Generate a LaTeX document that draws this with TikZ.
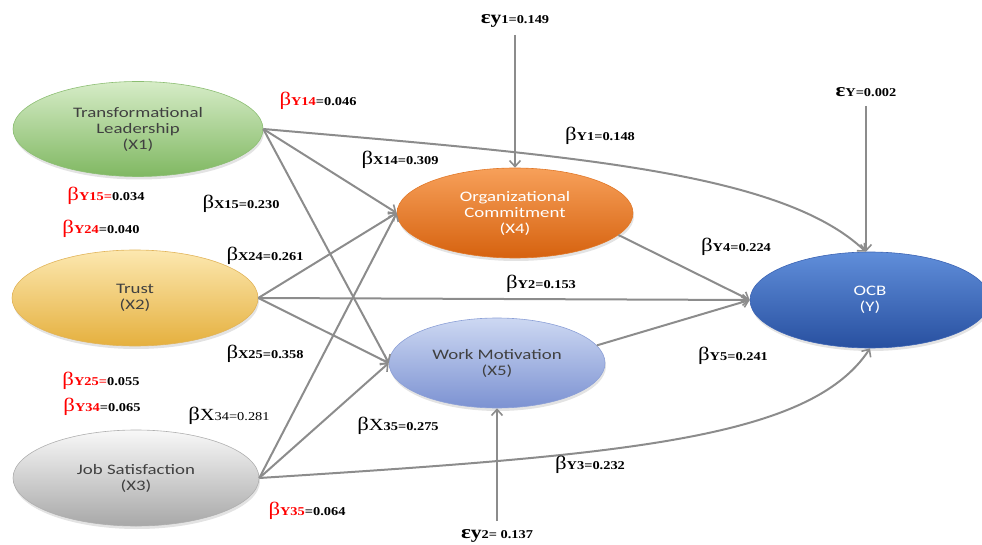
\documentclass[tikz,border=0pt]{standalone}
\usepackage{fontspec}
\setmainfont{Liberation Serif}
\newfontfamily\ellfont[FakeStretch=1.3]{Carlito}
\newfontfamily\labfont[FakeStretch=1.2]{Liberation Serif}
\usetikzlibrary{arrows.meta,shapes.geometric,shadows}
\definecolor{arrgray}{HTML}{8C8C8C}
\definecolor{txtgray}{HTML}{404040}
\definecolor{gA}{RGB}{214,236,199}\definecolor{gB}{RGB}{128,184,98}\definecolor{gD}{RGB}{140,190,115}
\definecolor{yA}{RGB}{252,232,176}\definecolor{yB}{RGB}{229,176,62}\definecolor{yD}{RGB}{225,180,90}
\definecolor{sA}{RGB}{248,248,248}\definecolor{sB}{RGB}{168,168,168}\definecolor{sD}{RGB}{175,175,175}
\definecolor{oA}{RGB}{247,160,90}\definecolor{oB}{RGB}{214,98,15}\definecolor{oD}{RGB}{225,120,40}
\definecolor{lA}{RGB}{205,216,242}\definecolor{lB}{RGB}{124,146,210}\definecolor{lD}{RGB}{140,160,215}
\definecolor{bA}{RGB}{96,142,218}\definecolor{bB}{RGB}{40,80,160}\definecolor{bD}{RGB}{60,100,180}
\newcommand{\bt}{{\fontsize{19}{19}\selectfont β}}
\newcommand{\sm}[1]{{\fontsize{12}{12}\selectfont\bfseries #1}}
\newcommand{\eps}{{\fontsize{19}{19}\selectfont\bfseries ɛ}}
\tikzset{
  ell/.style={ellipse, draw=#1D, top color=#1A, bottom color=#1B, line width=0.6pt,
    font=\ellfont\fontsize{14.5}{16}\selectfont, text=txtgray, align=center,
    drop shadow={opacity=0.22, shadow xshift=1pt, shadow yshift=-3pt}},
  arr/.style={draw=arrgray, line width=2pt, -{Straight Barb[length=6pt,width=11pt,line width=1.6pt]}},
  lab/.style={inner sep=1pt, font=\labfont, anchor=center}
}
\begin{document}
\begin{tikzpicture}[x=1pt,y=-1pt]
\useasboundingbox (0,0) rectangle (982,545);
% nodes
\node[ell=g, minimum width=250pt, minimum height=95pt] (x1) at (138,129) {Transformational\\Leadership\\(X1)};
\node[ell=y, minimum width=246pt, minimum height=96pt] (x2) at (135,298) {Trust\\(X2)};
\node[ell=s, minimum width=246pt, minimum height=96pt] (x3) at (136,478) {Job Satisfaction\\(X3)};
\node[ell=o, text=white, minimum width=236pt, minimum height=90pt] (x4) at (515,213) {Organizational\\Commitment\\(X4)};
\node[ell=l, minimum width=216pt, minimum height=90pt] (x5) at (497,363) {Work Motivation\\(X5)};
\node[ell=b, text=white, minimum width=240pt, minimum height=96pt] (y) at (870,300) {OCB\\(Y)};
% error terms
\node[lab] (e1) at (515,21) {\eps{\fontsize{18}{18}\selectfont\bfseries y}\sm{1=0.149}};
\node[lab] (e0) at (866,92) {\eps\sm{Y=0.002}};
\node[lab] (e2) at (497,536) {\eps{\fontsize{18}{18}\selectfont\bfseries y}\sm{2= 0.137}};
\coordinate (e1s) at (515,35);
\coordinate (e0s) at (866,106);
\coordinate (e2s) at (497,521);
\draw[arr] (e1s) -- (x4.north);
\draw[arr] (e0s) -- (y.north -| e0s);
\draw[arr] (e2s) -- (x5.south);
% paths
\draw[arr] (x1.east) -- (x4.west);
\draw[arr] (x1.east) -- (x5.west);
\draw[arr] (x1.east) .. controls (560,155) and (780,170) .. (y.95);
\draw[arr] (x2.east) -- (x4.west);
\draw[arr] (x2.east) -- (y.west);
\draw[arr] (x2.east) -- (x5.west);
\draw[arr] (x3.east) -- (x4.west);
\draw[arr] (x3.east) -- (x5.west);
\draw[arr] (x3.east) .. controls (620,455) and (810,440) .. (y.south);
\draw[arr] (x4.-12) -- (y.west);
\draw[arr] (x5.10) -- (y.west);
% labels
\node[lab] (l1) at (318,101) {\textcolor{red}{\bt\sm{Y14}}\sm{=0.046}};
\node[lab] (l2) at (600,136) {\bt\sm{Y1=0.148}};
\node[lab] (l3) at (400,160) {\bt\sm{X14=0.309}};
\node[lab] (l4) at (106,196) {\textcolor{red}{\bt\sm{Y15=}}\sm{0.034}};
\node[lab] (l5) at (241,204) {\bt\sm{X15=0.230}};
\node[lab] (l6) at (101,229) {\textcolor{red}{\bt\sm{Y24}}\sm{=0.040}};
\node[lab] (l7) at (265,256) {\bt\sm{X24=0.261}};
\node[lab] (l8) at (541,284) {\bt\sm{Y2=0.153}};
\node[lab] (l9) at (736,247) {\bt\sm{Y4=0.224}};
\node[lab] (l10) at (265,354) {\bt\sm{X25=0.358}};
\node[lab] (l11) at (733,356) {\bt\sm{Y5=0.241}};
\node[lab] (l12) at (101,381) {\textcolor{red}{\bt\sm{Y25=}}\sm{0.055}};
\node[lab] (l13) at (102,407) {\textcolor{red}{\bt\sm{Y34}}\sm{=0.065}};
\node[lab] (l14) at (229,416) {\bt{\fontsize{17}{17}\selectfont X}{\fontsize{12}{12}\selectfont 34=0.281}};
\node[lab] (l15) at (398,426) {\bt{\fontsize{17}{17}\selectfont X}\sm{35=0.275}};
\node[lab] (l16) at (590,465) {\bt\sm{Y3=0.232}};
\node[lab] (l17) at (307,511) {\textcolor{red}{\bt\sm{Y35}}\sm{=0.064}};
\end{tikzpicture}
\end{document}
